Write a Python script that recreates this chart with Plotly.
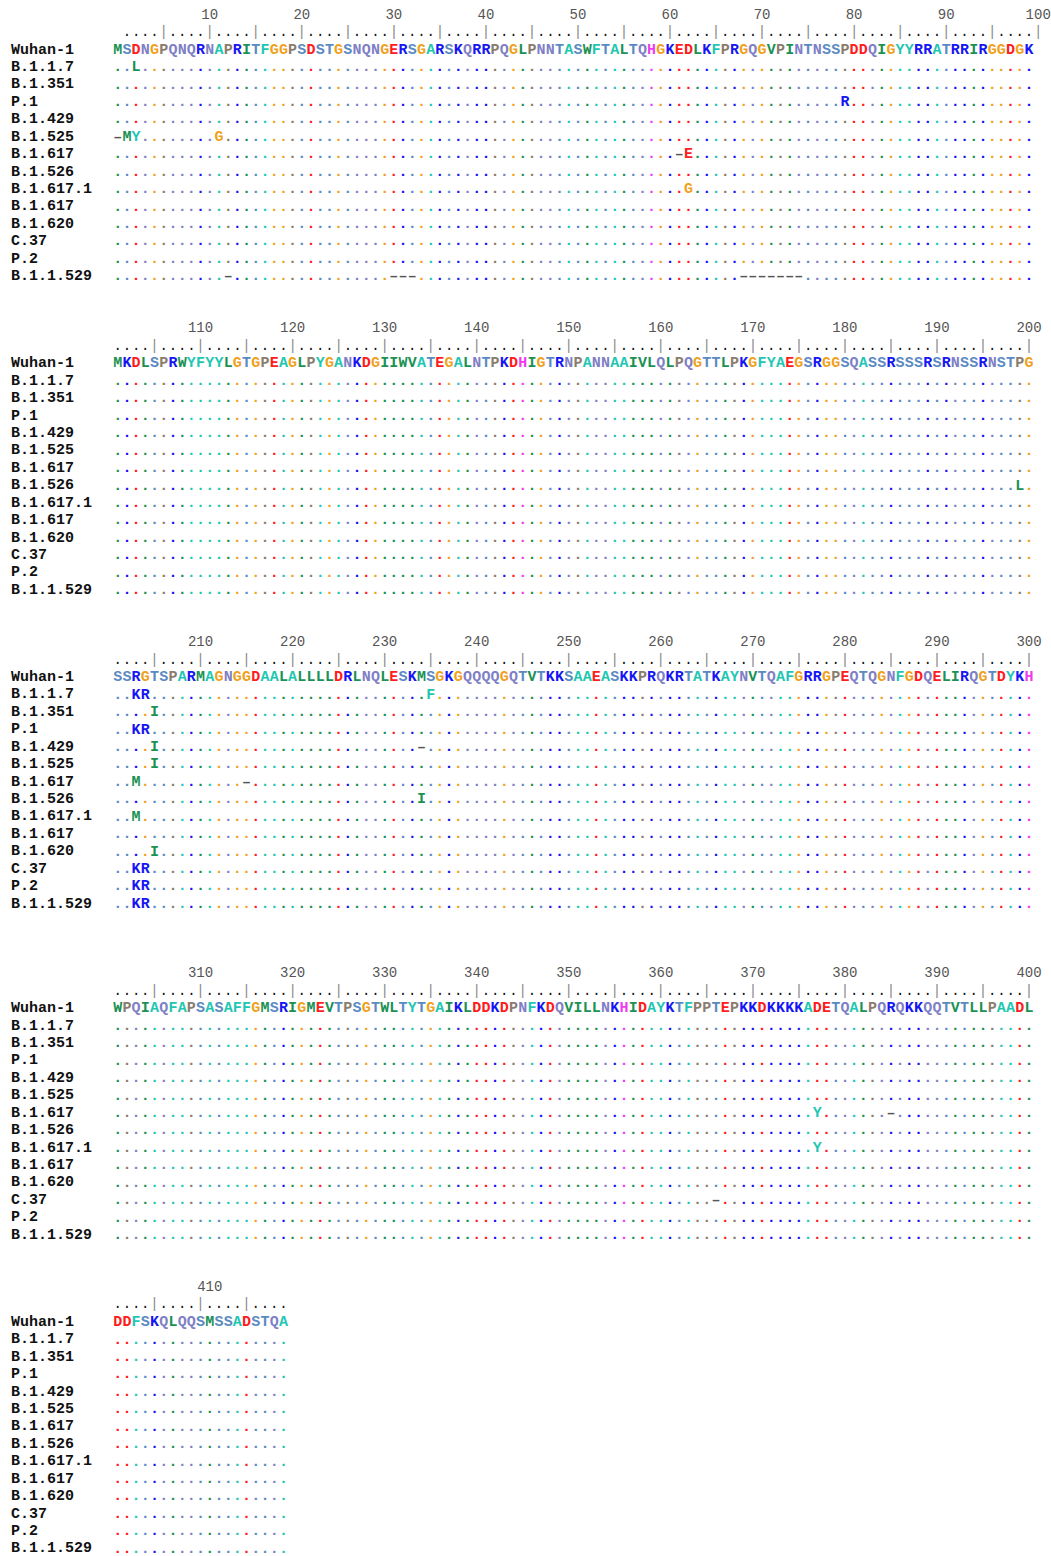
import plotly.graph_objects as go

# ---------------- data ----------------
wuhan_seq = ("MSDNGPQNQRNAPRITFGGPSDSTGSNQNGERSGARSKQRRPQGLPNNTASWFTALTQHGKEDLKFPRGQGVPINTNSSPDDQIGYYRRATRRIRGGDGK"
             "MKDLSPRWYFYYLGTGPEAGLPYGANKDGIIWVATEGALNTPKDHIGTRNPANNAAIVLQLPQGTTLPKGFYAEGSRGGSQASSRSSSRSRNSSRNSTPG"
             "SSRGTSPARMAGNGGDAALALLLLDRLNQLESKMSGKGQQQQGQTVTKKSAAEASKKPRQKRTATKAYNVTQAFGRRGPEQTQGNFGDQELIRQGTDYKH"
             "WPQIAQFAPSASAFFGMSRIGMEVTPSGTWLTYTGAIKLDDKDPNFKDQVILLNKHIDAYKTFPPTEPKKDKKKKADETQALPQRQKKQQTVTLLPAADL"
             "DDFSKQLQQSMSSADSTQA")

row_names = ["Wuhan-1", "B.1.1.7", "B.1.351", "P.1", "B.1.429", "B.1.525", "B.1.617",
             "B.1.526", "B.1.617.1", "B.1.617", "B.1.620", "C.37", "P.2", "B.1.1.529"]

# differences from Wuhan-1: (position, residue); "-" = gap
mut_b117 = [(3, "L"), (203, "K"), (204, "R"), (235, "F")]
mut_b1351 = [(205, "I")]
mut_p1 = [(80, "R"), (203, "K"), (204, "R")]
mut_b1429 = [(205, "I"), (234, "-")]
mut_b1525 = [(1, "-"), (2, "M"), (3, "Y"), (12, "G"), (205, "I")]
mut_b1617 = [(62, "-"), (63, "E"), (203, "M"), (215, "-"), (377, "Y"), (385, "-")]
mut_b1526 = [(199, "L"), (234, "I")]
mut_b16171 = [(63, "G"), (203, "M"), (377, "Y")]
mut_b1617b = []
mut_b1620 = [(205, "I")]
mut_c37 = [(203, "K"), (204, "R"), (366, "-")]
mut_p2 = [(203, "K"), (204, "R")]
mut_b11529 = [(13, "-"), (31, "-"), (32, "-"), (33, "-"), (69, "-"), (70, "-"), (71, "-"),
              (72, "-"), (73, "-"), (74, "-"), (75, "-"), (203, "K"), (204, "R")]

variant_mutations = [mut_b117, mut_b1351, mut_p1, mut_b1429, mut_b1525, mut_b1617, mut_b1526,
                     mut_b16171, mut_b1617b, mut_b1620, mut_c37, mut_p2, mut_b11529]

# ---------------- styling ----------------
GREEN, TURQ, STEEL, LAV = "#1b9153", "#1fc7b2", "#5a8ac2", "#7f7fc6"
RED, BLUE, ORANGE, BROWN, MAG, GAP = "#ff1c1c", "#1515f5", "#f0a11c", "#8a7d6e", "#f03cf0", "#555555"
res_color = {}
for aa in "MILVW":
    res_color[aa] = GREEN
for aa in "AFY":
    res_color[aa] = TURQ
for aa in "ST":
    res_color[aa] = STEEL
for aa in "NQ":
    res_color[aa] = LAV
for aa in "DE":
    res_color[aa] = RED
for aa in "KR":
    res_color[aa] = BLUE
res_color.update({"G": ORANGE, "P": BROWN, "H": MAG, "C": "#e0c000", "-": GAP})

MONO = "Liberation Mono, Courier New, monospace"
W, H = 1051, 1556
COL0_PX, COL_PX = 117.7, 9.205      # pixel centre of first column, column width
ROW0_PX, ROW_PX = 50.0, 17.43       # pixel centre of first Wuhan row, row pitch
BLOCK = 100
block_rows = [0, 18, 36, 55, 73]    # starting row of each block
ruler_shift = [1, 0, 0, 0, 0]       # ruler offset (columns) per block
label_shift = [0, 0, 0, 0, 1]

n = len(wuhan_seq)
nblocks = (n + BLOCK - 1) // BLOCK

lx, ly, lt, lc = [], [], [], []     # letters
gx, gy = [], []                     # gaps
dx, dy, dc = [], [], []             # coloured dots
rx, ry, rt, rc = [], [], [], []     # ruler marks
nx, ny, nt = [], [], []             # ruler numbers

for b in range(nblocks):
    start = b * BLOCK
    end = min(n, start + BLOCK)
    base = block_rows[b]
    for i in range(start, end):
        col = i - start
        pos = i + 1
        aa = wuhan_seq[i]
        lx.append(col); ly.append(base); lt.append(aa); lc.append(res_color[aa])
        rcol = col + ruler_shift[b]
        if pos % 5 == 0:
            rx.append(rcol); ry.append(base - 1); rt.append("|"); rc.append("#888888")
        else:
            rx.append(rcol); ry.append(base - 1); rt.append("."); rc.append("#111111")
        if pos % 10 == 0:
            nx.append(rcol + label_shift[b]); ny.append(base - 2); nt.append(str(pos))
    for v, muts in enumerate(variant_mutations):
        mdict = dict(muts)
        row = base + v + 1
        for i in range(start, end):
            col = i - start
            pos = i + 1
            if pos in mdict:
                aa = mdict[pos]
                if aa == "-":
                    gx.append(col); gy.append(row)
                else:
                    lx.append(col); ly.append(row); lt.append(aa); lc.append(res_color[aa])
            else:
                dx.append(col); dy.append(row); dc.append(res_color[wuhan_seq[i]])

fig = go.Figure()
fig.add_trace(go.Scatter(x=rx, y=ry, text=rt, mode="text", hoverinfo="skip",
                         textfont=dict(family=MONO, size=14, color=rc)))
fig.add_trace(go.Scatter(x=nx, y=ny, text=nt, mode="text", hoverinfo="skip",
                         textfont=dict(family=MONO, size=14, color="#555555")))
fig.add_trace(go.Scatter(x=dx, y=dy, text=["."] * len(dx), mode="text", hoverinfo="skip",
                         textfont=dict(family=MONO, size=15, color=dc, weight="bold")))
fig.add_trace(go.Scatter(x=gx, y=gy, text=["–"] * len(gx), mode="text", hoverinfo="skip",
                         textfont=dict(family=MONO, size=15, color=GAP, weight="bold")))
fig.add_trace(go.Scatter(x=lx, y=ly, text=lt, mode="text", hoverinfo="skip",
                         textfont=dict(family=MONO, size=15, color=lc, weight="bold")))

name_x = (10 - COL0_PX) / COL_PX
for b in range(nblocks):
    for r, name in enumerate(row_names):
        fig.add_annotation(x=name_x, y=block_rows[b] + r, text=name, xref="x", yref="y",
                           xanchor="left", yanchor="middle", showarrow=False, borderpad=0,
                           font=dict(family=MONO, size=15, color="#111111", weight="bold"))

xr = [-COL0_PX / COL_PX, (W - COL0_PX) / COL_PX]
yr = [(H - ROW0_PX) / ROW_PX, -ROW0_PX / ROW_PX]
fig.update_layout(width=W, height=H, margin=dict(l=0, r=0, t=0, b=0),
                  paper_bgcolor="white", plot_bgcolor="white", showlegend=False,
                  xaxis=dict(range=xr, visible=False, fixedrange=True),
                  yaxis=dict(range=yr, visible=False, fixedrange=True))

fig.write_html("out.html", config={"displayModeBar": False},
               post_script="document.body.style.margin='0';document.body.style.overflow='hidden';")
